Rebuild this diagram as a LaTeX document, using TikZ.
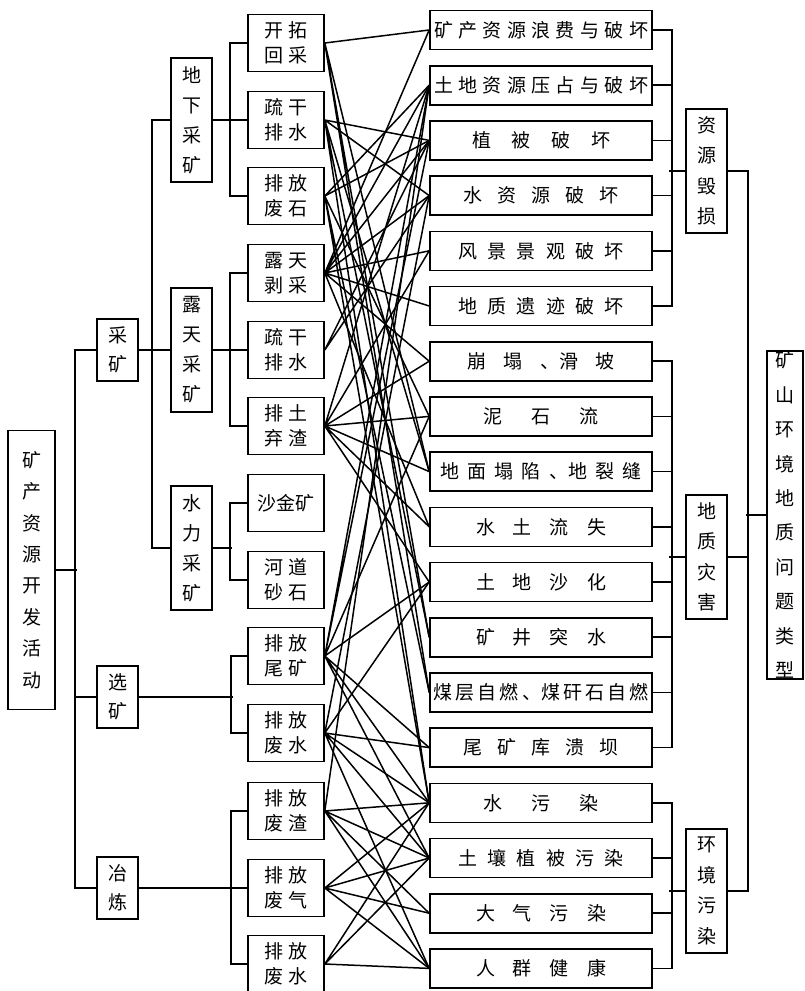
\documentclass[tikz,border=0pt]{standalone}
\usepackage{fontspec}
\newfontfamily\cjk{Noto Sans CJK SC}
\newcommand{\spreadlbl}[2]{\makebox[#1pt][s]{#2}}

\begin{document}
\begin{tikzpicture}[
  x=1pt, y=-1pt,
  font=\cjk\fontsize{19}{25}\selectfont,
  box/.style={draw, line width=1.6pt, inner sep=1pt, align=center},
  rootbox/.style={box, minimum width=47pt, minimum height=279pt, font=\cjk\fontsize{19}{31.4}\selectfont},
  catbox/.style={box, minimum width=41pt, minimum height=62pt, font=\cjk\fontsize{19}{29}\selectfont},
  subbox/.style={box, minimum width=41pt, minimum height=124pt, font=\cjk\fontsize{19}{30}\selectfont},
  workbox/.style={box, minimum width=76pt, minimum height=57pt},
  probbox/.style={box, minimum width=222pt, minimum height=39pt},
  grpbox/.style={box, minimum width=41pt, minimum height=124pt, font=\cjk\fontsize{19}{30.5}\selectfont},
  typebox/.style={box, minimum width=36pt, minimum height=321pt, font=\cjk\fontsize{19}{34.4}\selectfont},
  tree/.style={line width=1.6pt},
  link/.style={line width=1.5pt}
]
\useasboundingbox (0,0) rectangle (805,991);

% activities
\node[rootbox] (act) at (31.5, 570) {矿\\产\\资\\源\\开\\发\\活\\动};

\node[catbox] (cm) at (117.5, 350) {采\\矿};
\node[catbox] (xk) at (117.5, 697) {选\\矿};
\node[catbox] (yl) at (117.5, 888) {冶\\炼};

\node[subbox] (dx) at (191.5, 120) {地\\下\\采\\矿};
\node[subbox] (lt) at (191.5, 350) {露\\天\\采\\矿};
\node[subbox] (sl) at (191.5, 548) {水\\力\\采\\矿};

\node[workbox] (s1)  at (286, 43)  {开 拓\\回 采};
\node[workbox] (s2)  at (286, 120) {疏 干\\排 水};
\node[workbox] (s3)  at (286, 196) {排 放\\废 石};
\node[workbox] (s4)  at (286, 273) {露 天\\剥 采};
\node[workbox] (s5)  at (286, 350) {疏 干\\排 水};
\node[workbox] (s6)  at (286, 426) {排 土\\弃 渣};
\node[workbox] (s7)  at (286, 503) {沙金矿};
\node[workbox] (s8)  at (286, 580) {河 道\\砂 石};
\node[workbox] (s9)  at (286, 656) {排 放\\尾 矿};
\node[workbox] (s10) at (286, 733) {排 放\\废 水};
\node[workbox] (s11) at (286, 811) {排 放\\废 渣};
\node[workbox] (s12) at (286, 888) {排 放\\废 气};
\node[workbox] (s13) at (286, 964) {排 放\\废 水};

% problems
\node[probbox] (t1)  at (541, 30)    {\spreadlbl{214}{矿 产 资 源 浪 费 与 破 坏}};
\node[probbox] (t2)  at (541, 85.2)  {\spreadlbl{214}{土 地 资 源 压 占 与 破 坏}};
\node[probbox] (t3)  at (541, 140.4) {\spreadlbl{138}{植 被 破 坏}};
\node[probbox] (t4)  at (541, 195.6) {\spreadlbl{155}{水 资 源 破 坏}};
\node[probbox] (t5)  at (541, 250.8) {\spreadlbl{165}{风 景 景 观 破 坏}};
\node[probbox] (t6)  at (541, 306)   {\spreadlbl{165}{地 质 遗 迹 破 坏}};
\node[probbox] (t7)  at (541, 361.2) {\spreadlbl{148}{崩 塌 、滑 坡}};
\node[probbox] (t8)  at (541, 416.4) {\spreadlbl{115}{泥 石 流}};
\node[probbox] (t9)  at (541, 471.6) {\spreadlbl{202}{地 面 塌 陷 、地 裂 缝}};
\node[probbox] (t10) at (541, 526.8) {\spreadlbl{130}{水 土 流 失}};
\node[probbox] (t11) at (541, 582)   {\spreadlbl{130}{土 地 沙 化}};
\node[probbox] (t12) at (541, 637.2) {\spreadlbl{130}{矿 井 突 水}};
\node[probbox] (t13) at (541, 692.4) {\spreadlbl{216}{煤 层 自 燃 、煤 矸 石 自 燃}};
\node[probbox] (t14) at (541, 747.6) {\spreadlbl{155}{尾 矿 库 溃 坝}};
\node[probbox] (t15) at (541, 802.8) {\spreadlbl{115}{水 污 染}};
\node[probbox] (t16) at (541, 858)   {\spreadlbl{165}{土 壤 植 被 污 染}};
\node[probbox] (t17) at (541, 913.2) {\spreadlbl{130}{大 气 污 染}};
\node[probbox] (t18) at (541, 968.4) {\spreadlbl{130}{人 群 健 康}};

\node[grpbox] (zy) at (706.5, 171) {资\\源\\毁\\损};
\node[grpbox] (dz) at (706.5, 557) {地\\质\\灾\\害};
\node[grpbox] (hj) at (706.5, 891) {环\\境\\污\\染};

\node[typebox] (ks) at (785, 515) {矿\\山\\环\\境\\地\\质\\问\\题\\类\\型};

% left tree
\draw[tree] (act.east) -- ++(21,0);
\draw[tree] (cm.west) -- ++(-21,0) |- (yl.west);
\draw[tree] (xk.west) -- ++(-22,0);
\draw[tree] (cm.east) -- (lt.west);
\draw[tree] (dx.west) -- ++(-18,0) |- (sl.west);

\draw[tree] (dx.east) -- (s2.west);
\draw[tree] (s1.west) -- ++(-17,0) |- (s3.west);
\draw[tree] (lt.east) -- (s5.west);
\draw[tree] (s4.west) -- ++(-17,0) |- (s6.west);
\draw[tree] (s7.west) -- ++(-17,0) |- (s8.west);
\draw[tree] (sl.east) -- ++(19,0);
\draw[tree] (s9.west) -- ++(-16,0) |- (s10.west);
\draw[tree] (xk.east) -- ++(94,0);
\draw[tree] (s11.west) -- ++(-16,0) |- (s13.west);
\draw[tree] (yl.east) -- (s12.west);

% right tree
\draw[tree] (t1.east) -- ++(19,0) |- (t6.east);
\foreach \i in {2,...,5} \draw[tree] (t\i.east) -- ++(19,0);
\draw[tree] (t7.east) -- ++(19,0) |- (t14.east);
\foreach \i in {8,...,13} \draw[tree] (t\i.east) -- ++(19,0);
\draw[tree] (t15.east) -- ++(19,0) |- (t18.east);
\foreach \i in {16,17} \draw[tree] (t\i.east) -- ++(19,0);
\draw[tree] (zy.west) -- ++(-16,0);
\draw[tree] (dz.west) -- ++(-16,0);
\draw[tree] (hj.west) -- ++(-16,0);
\draw[tree] (zy.east) -- ++(20,0) |- (hj.east);
\draw[tree] (dz.east) -- ++(20,0);
\draw[tree] (ks.west) -- ++(-20,0);

% activity -> problem links
\draw[link] (s1.east) -- (t1.west) (s1.east) -- (t9.west) (s1.east) -- (t12.west) (s1.east) -- (t13.west);
\draw[link] (s2.east) -- (t3.west) (s2.east) -- (t4.west) (s2.east) -- (t9.west) (s2.east) -- (t12.west) (s2.east) -- (t15.west);
\draw[link] (s3.east) -- (t2.west) (s3.east) -- (t3.west) (s3.east) -- (t8.west) (s3.east) -- (t13.west) (s3.east) -- (t15.west);
\draw[link] (s4.east) -- (t1.west) (s4.east) -- (t2.west) (s4.east) -- (t3.west) (s4.east) -- (t4.west) (s4.east) -- (t5.west) (s4.east) -- (t6.west) (s4.east) -- (t7.west) (s4.east) -- (t10.west);
\draw[link] (s5.east) -- (t3.west) (s5.east) -- (t4.west);
\draw[link] (s6.east) -- (t2.west) (s6.east) -- (t5.west) (s6.east) -- (t7.west) (s6.east) -- (t8.west) (s6.east) -- (t9.west) (s6.east) -- (t10.west) (s6.east) -- (t11.west);
\draw[link] (s9.east) -- (t2.west) (s9.east) -- (t3.west) (s9.east) -- (t8.west) (s9.east) -- (t11.west) (s9.east) -- (t14.west) (s9.east) -- (t15.west) (s9.east) -- (t16.west);
\draw[link] (s10.east) -- (t4.west) (s10.east) -- (t11.west) (s10.east) -- (t14.west) (s10.east) -- (t15.west) (s10.east) -- (t16.west) (s10.east) -- (t18.west);
\draw[link] (s11.east) -- (t2.west) (s11.east) -- (t15.west) (s11.east) -- (t16.west) (s11.east) -- (t17.west) (s11.east) -- (t18.west);
\draw[link] (s12.east) -- (t15.west) (s12.east) -- (t16.west) (s12.east) -- (t17.west) (s12.east) -- (t18.west);
\draw[link] (s13.east) -- (t15.west) (s13.east) -- (t16.west) (s13.east) -- (t18.west);
\end{tikzpicture}
\end{document}
